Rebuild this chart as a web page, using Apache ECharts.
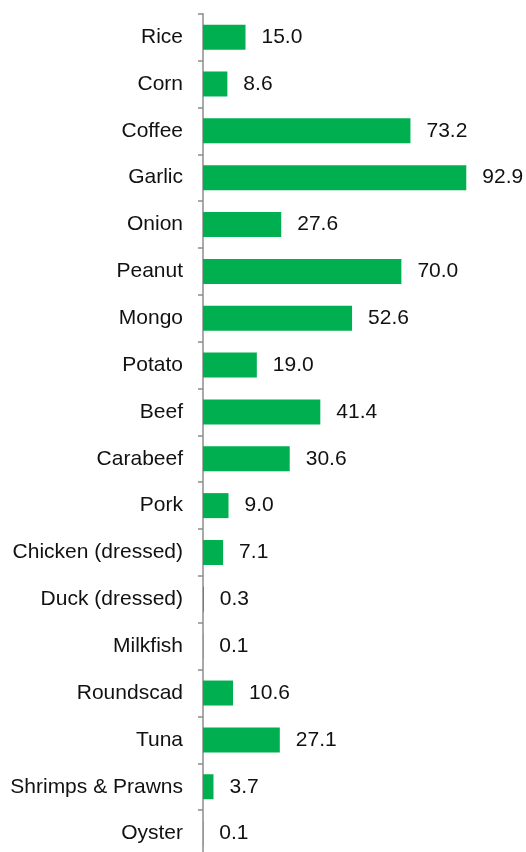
<!DOCTYPE html>
<html>
<head>
<meta charset="utf-8">
<script src="https://cdn.jsdelivr.net/npm/echarts@6/dist/echarts.min.js"></script>
<style>
  html, body { margin: 0; padding: 0; background: #fff; }
  #chart { width: 526px; height: 852px; }
</style>
</head>
<body>
<div id="chart"></div>
<script>
// Commodity names, listed top to bottom
const categories = [
  'Rice', 'Corn', 'Coffee', 'Garlic', 'Onion', 'Peanut', 'Mongo', 'Potato',
  'Beef', 'Carabeef', 'Pork', 'Chicken (dressed)', 'Duck (dressed)',
  'Milkfish', 'Roundscad', 'Tuna', 'Shrimps & Prawns', 'Oyster'
];

// Value for each commodity
const values = [
  15.0, 8.6, 73.2, 92.9, 27.6, 70.0, 52.6, 19.0,
  41.4, 30.6, 9.0, 7.1, 0.3,
  0.1, 10.6, 27.1, 3.7, 0.1
];

const chart = echarts.init(document.getElementById('chart'), null, { renderer: 'canvas' });

const FONT = '"Liberation Sans", Arial, sans-serif';

chart.setOption({
  animation: false,
  backgroundColor: '#ffffff',
  grid: {
    left: 203,
    top: 13.7,
    width: 283.4,
    height: 843.3,
    containLabel: false,
    outerBoundsMode: 'none'
  },
  xAxis: {
    type: 'value',
    min: 0,
    max: 100,
    show: false,
    splitLine: { show: false }
  },
  yAxis: {
    type: 'category',
    data: categories,
    inverse: true,
    axisLine: { show: true, lineStyle: { color: '#8c8c8c', width: 1.5 } },
    axisTick: { show: true, length: 5, lineStyle: { color: '#8c8c8c', width: 1.5 } },
    axisLabel: {
      margin: 20,
      color: '#111111',
      fontSize: 21,
      fontFamily: FONT
    }
  },
  series: [{
    type: 'bar',
    data: values,
    barWidth: 25,
    itemStyle: { color: '#00B050' },
    label: {
      show: true,
      position: 'right',
      distance: 16,
      color: '#111111',
      fontSize: 21,
      fontFamily: FONT,
      formatter: p => p.value.toFixed(1)
    }
  }]
});
</script>
</body>
</html>
